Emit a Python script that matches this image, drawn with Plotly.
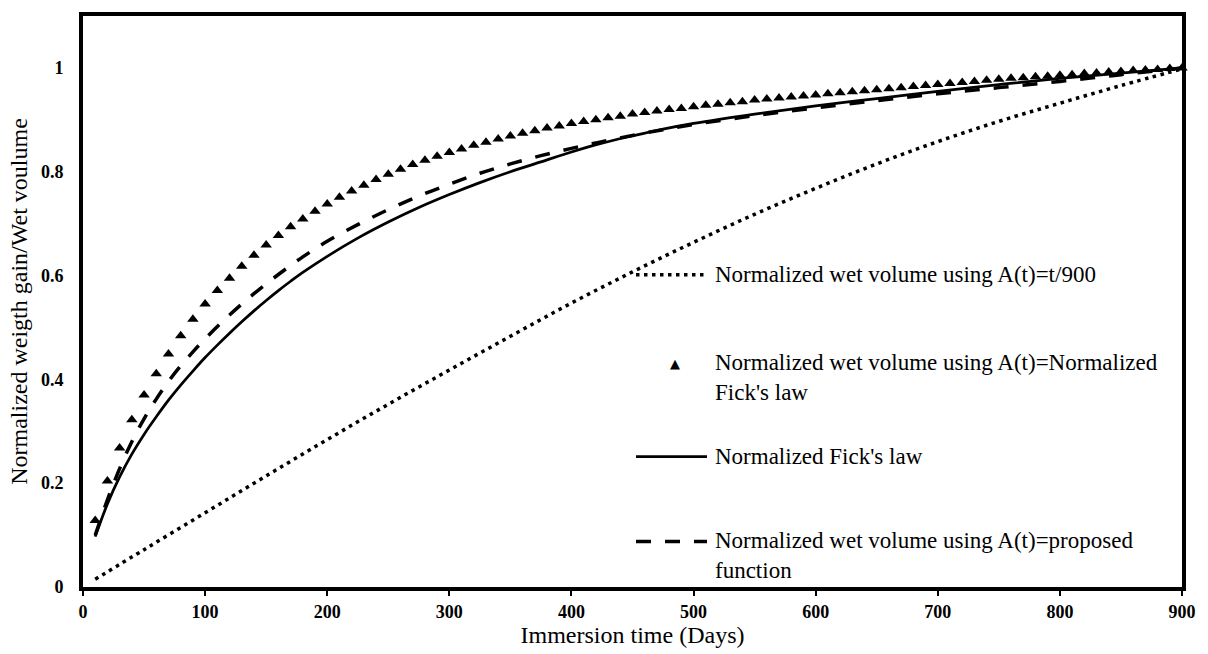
import plotly.graph_objects as go

# Immersion time (days) of the sampled points
tri_days = list(range(10, 901, 10))
# Normalized wet volume using A(t) = normalized Fick's law
tri_vals = [
    0.128, 0.204, 0.268, 0.322, 0.370, 0.411, 0.449, 0.484, 0.516, 0.545,
    0.571, 0.595, 0.618, 0.639, 0.659, 0.677, 0.694, 0.709, 0.724, 0.738,
    0.751, 0.763, 0.774, 0.785, 0.795, 0.805, 0.814, 0.822, 0.830, 0.837,
    0.844, 0.851, 0.857, 0.863, 0.869, 0.874, 0.879, 0.884, 0.888, 0.893,
    0.897, 0.900, 0.904, 0.907, 0.911, 0.914, 0.917, 0.920, 0.922, 0.925,
    0.928, 0.930, 0.933, 0.935, 0.938, 0.940, 0.942, 0.944, 0.946, 0.948,
    0.950, 0.952, 0.954, 0.956, 0.958, 0.960, 0.962, 0.964, 0.966, 0.968,
    0.970, 0.972, 0.974, 0.976, 0.978, 0.980, 0.981, 0.983, 0.984, 0.986,
    0.987, 0.989, 0.990, 0.992, 0.993, 0.995, 0.996, 0.997, 0.999, 1.000,
]

# Normalized Fick's law
fick_days = [10, 20, 30, 40, 50, 60, 70, 80, 90, 100, 110, 120, 130, 140, 150,
             160, 170, 180, 200, 225, 250, 275, 300, 325, 350, 375, 400, 425,
             450, 475, 500, 550, 600, 650, 700, 750, 800, 850, 900]
fick_vals = [0.097, 0.160, 0.212, 0.256, 0.294, 0.328, 0.360, 0.389, 0.416,
             0.442, 0.466, 0.489, 0.511, 0.532, 0.552, 0.571, 0.589, 0.606,
             0.637, 0.672, 0.703, 0.731, 0.756, 0.779, 0.800, 0.819, 0.838,
             0.855, 0.869, 0.882, 0.893, 0.911, 0.927, 0.941, 0.955, 0.968,
             0.980, 0.990, 1.000]

# Normalized wet volume using A(t) = proposed function
proposed_days = [10, 20, 30, 40, 50, 60, 70, 80, 90, 100, 120, 140, 160, 180,
                 200, 225, 250, 275, 300, 325, 350, 375, 400, 425, 450, 475,
                 500, 550, 600, 650, 700, 750, 800, 850, 900]
proposed_vals = [0.100, 0.168, 0.228, 0.280, 0.324, 0.362, 0.396, 0.426, 0.453,
                 0.478, 0.524, 0.565, 0.602, 0.636, 0.666, 0.698, 0.727, 0.753,
                 0.776, 0.797, 0.815, 0.831, 0.845, 0.858, 0.870, 0.881, 0.891,
                 0.908, 0.923, 0.937, 0.950, 0.962, 0.974, 0.987, 1.000]

# Normalized wet volume using A(t) = t/900
linear_days = [10, 50, 100, 150, 200, 250, 300, 350, 400, 450, 500, 550, 600,
               650, 700, 750, 800, 850, 900]
linear_vals = [0.015, 0.072, 0.143, 0.214, 0.284, 0.352, 0.418, 0.483, 0.547,
               0.607, 0.664, 0.718, 0.768, 0.815, 0.858, 0.897, 0.932, 0.966,
               0.998]

x_ticks = [0, 100, 200, 300, 400, 500, 600, 700, 800, 900]
y_ticks = [0, 0.2, 0.4, 0.6, 0.8, 1.0]
y_tick_text = ["0", "0.2", "0.4", "0.6", "0.8", "1"]

legend_labels = [
    "Normalized wet volume using A(t)=t/900",
    "Normalized wet volume using A(t)=Normalized<br>Fick's law",
    "Normalized Fick's law",
    "Normalized wet volume using A(t)=proposed<br>function",
]

SERIF = "Liberation Serif, Times New Roman, serif"
DOT = dict(color="black", width=3.5, dash="3.5px,4.5px")
SOLID = dict(color="black", width=2.75)
DASH = dict(color="black", width=3.5, dash="15px,14px")

fig = go.Figure()

fig.add_trace(go.Scatter(
    x=linear_days, y=linear_vals, mode="lines", line_shape="spline",
    line=DOT, showlegend=False,
))
fig.add_trace(go.Scatter(
    x=fick_days, y=fick_vals, mode="lines", line_shape="spline",
    line=SOLID, showlegend=False,
))
fig.add_trace(go.Scatter(
    x=proposed_days, y=proposed_vals, mode="lines", line_shape="spline",
    line=DASH, showlegend=False,
))
fig.add_trace(go.Scatter(
    x=tri_days, y=tri_vals, mode="markers",
    marker=dict(symbol="triangle-up", size=10, color="black"),
    showlegend=False, cliponaxis=False,
))

# Plot-area geometry (pixels) and helpers to place the legend in paper units
plot_l, plot_r, plot_t, plot_b = 83, 1182, 15, 593
W, H = plot_r - plot_l, plot_b - plot_t


def px(xp):
    return (xp - plot_l) / W


def py(yp):
    return (plot_b - yp) / H


key_x0, key_x1, text_x = 636, 707, 713
rows = [277, 381, 461, 561]         # vertical centres of the four entries
first_lines = [277, 367, 461, 547]  # centre of each entry's first text line

for style, row in ((DOT, first_lines[0]), (SOLID, first_lines[2]), (DASH, first_lines[3])):
    fig.add_shape(type="line", xref="paper", yref="paper",
                  x0=px(key_x0), x1=px(key_x1), y0=py(row), y1=py(row),
                  line=style)
fig.add_annotation(xref="paper", yref="paper", x=px(675), y=py(first_lines[1]),
                   text="▲", showarrow=False,
                   font=dict(family="DejaVu Sans", size=13, color="black"))

for row, label in zip(rows, legend_labels):
    fig.add_annotation(
        xref="paper", yref="paper", x=px(text_x), y=py(row),
        xanchor="left", yanchor="middle", align="left",
        text=label, showarrow=False,
        font=dict(family=SERIF, size=23, color="black"),
    )

fig.update_layout(
    width=1208, height=654,
    margin=dict(l=plot_l, r=1208 - plot_r, t=plot_t, b=654 - plot_b),
    paper_bgcolor="white", plot_bgcolor="white",
    font=dict(family=SERIF, color="black"),
    showlegend=False,
)
fig.update_xaxes(
    range=[0, 900], tickvals=x_ticks,
    showgrid=False, zeroline=False,
    showline=True, linecolor="black", linewidth=4, mirror=True,
    ticks="outside", ticklen=5, tickwidth=2, tickcolor="black",
    tickfont=dict(family=SERIF, size=18, color="black", weight="bold"),
    title=dict(text="Immersion time (Days)", standoff=4,
               font=dict(family=SERIF, size=24, color="black")),
)
fig.update_yaxes(
    range=[0, 1.1], tickvals=y_ticks, ticktext=y_tick_text,
    showgrid=False, zeroline=False,
    showline=True, linecolor="black", linewidth=4, mirror=True,
    ticks="", ticklabelstandoff=12,
    tickfont=dict(family=SERIF, size=18, color="black", weight="bold"),
    title=dict(text="Normalized weigth gain/Wet voulume", standoff=8,
               font=dict(family=SERIF, size=24, color="black")),
)

fig.write_html("out.html")
